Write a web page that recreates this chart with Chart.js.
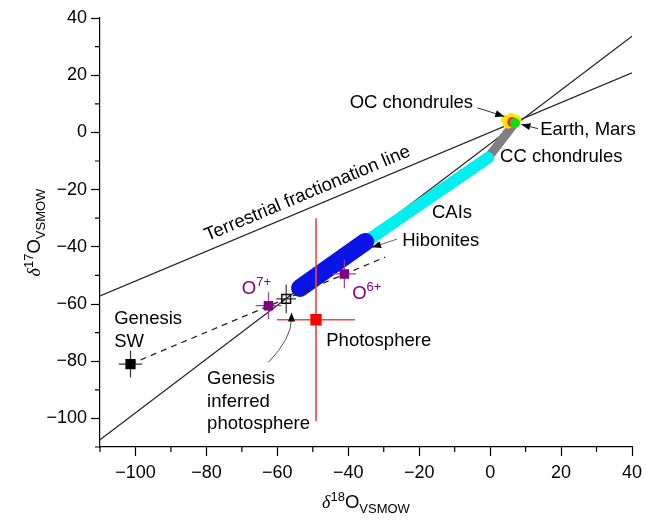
<!DOCTYPE html>
<html>
<head>
<meta charset="utf-8">
<script src="https://cdn.jsdelivr.net/npm/chart.js@4.4.1/dist/chart.umd.min.js"></script>
<style>
html, body { margin: 0; padding: 0; background: #fff; }
#wrap { width: 646px; height: 520px; }
</style>
</head>
<body>
<div id="wrap"><canvas id="chart"></canvas></div>
<script>
// reference lines, two end points each
const tflX = [-110, 40];
const tflY = [-57.2, 20.8];
const ccamX = [-110, 40];
const ccamY = [-107.5, 33.6];
const swLineX = [-101.4, -29.6];
const swLineY = [-81.0, -43.6];

// meteorite bands
const hiboniteX = [-53.6, -35.2];
const hiboniteY = [-54.4, -38.3];
const caiX = [-38.0, -0.6];
const caiY = [-40.7, -8.9];
const ccChondX = [-0.6, 6.5];
const ccChondY = [-8.9, 2.6];

// small blobs near the origin
const ocChondX = [4.4, 6.0, 7.4, 5.0];
const ocChondY = [4.4, 5.0, 4.4, 3.0];
const marsX = [6.2];
const marsY = [3.6];
const earthX = [7.0];
const earthY = [3.3];

// measurements with errors
const samples = ['Genesis SW', 'Genesis inferred photosphere', 'O7+', 'O6+', 'Photosphere'];
const sampleX = [-101.4, -57.5, -62.5, -41.1, -49.1];
const sampleY = [-81.0, -58.2, -60.6, -49.5, -65.5];
const sampleXErr = [3.3, 2.8, 3.6, 3.3, 11];
const sampleYErr = [4.7, 5.0, 4.7, 5.0, 35.5];

const majorTicks = [-100, -80, -60, -40, -20, 0, 20, 40];
const minorTicks = [-110, -90, -70, -50, -30, -10, 10, 30];

// styles
const sampleFill = ['#000', 'rgba(0,0,0,0)', '#800080', '#800080', '#ff0000'];
const sampleBorder = ['#000', '#000', '#800080', '#800080', '#ff0000'];
const sampleRadius = [6.2, 6.2, 5.8, 5.8, 7];
const barColor = ['#333', '#333', '#a040a0', '#a040a0', '#ff4040'];
const barWidth = [1.2, 1.2, 1.2, 1.2, 1.6];

const FONT = '"Liberation Sans", Arial, Helvetica, sans-serif';
const PURPLE = '#800080';

const pts = (xs, ys) => xs.map((x, i) => ({ x: x, y: ys[i] }));

// text notes in data units
const notes = [
    { parts: [['OC chondrules']], x: -4.8, y: 10.3, align: 'right' },
    { parts: [['Earth, Mars']], x: 14.1, y: 0.8, align: 'left' },
    { parts: [['CC chondrules']], x: 2.8, y: -8.6, align: 'left' },
    { parts: [['CAIs']], x: -16.4, y: -28.2, align: 'left' },
    { parts: [['Hibonites']], x: -24.8, y: -38.0, align: 'left' },
    { parts: [['O'], ['7+', 'sup']], x: -70.0, y: -54.8, align: 'left', color: PURPLE },
    { parts: [['O'], ['6+', 'sup']], x: -38.9, y: -56.5, align: 'left', color: PURPLE },
    { parts: [['Genesis']], x: -106.0, y: -65.2, align: 'left' },
    { parts: [['SW']], x: -106.0, y: -73.2, align: 'left' },
    { parts: [['Photosphere']], x: -46.2, y: -72.9, align: 'left' },
    { parts: [['Genesis']], x: -79.8, y: -86.2, align: 'left' },
    { parts: [['inferred']], x: -79.8, y: -94.2, align: 'left' },
    { parts: [['photosphere']], x: -79.8, y: -101.9, align: 'left' }
];

// arrows: from, to (data units)
const arrows = [
    { x1: -3.6, y1: 8.6, x2: 4.0, y2: 5.6, color: '#333' },
    { x1: 13.5, y1: 1.3, x2: 8.8, y2: 2.8, color: '#333' },
    { x1: -26.2, y1: -37.3, x2: -33.3, y2: -40.2, color: '#666' }
];

function drawRich(ctx, parts, x, y, align, color) {
    const seg = parts.map(p => {
        const kind = p[1] || 'norm';
        let font = '18.5px ' + FONT, dy = 0;
        if (kind === 'sup') { font = '13px ' + FONT; dy = -7; }
        if (kind === 'sub') { font = '13px ' + FONT; dy = 5; }
        if (kind === 'delta') { font = 'italic 18px "Liberation Serif", "DejaVu Serif", serif'; }
        ctx.font = font;
        return { t: p[0], font: font, dy: dy, w: ctx.measureText(p[0]).width };
    });
    const total = seg.reduce((s, p) => s + p.w, 0);
    let cx = align === 'right' ? x - total : (align === 'center' ? x - total / 2 : x);
    ctx.fillStyle = color || '#000';
    seg.forEach(p => {
        ctx.font = p.font;
        ctx.textAlign = 'left';
        ctx.fillText(p.t, cx, y + p.dy);
        cx += p.w;
    });
}

function arrowHead(ctx, x1, y1, x2, y2, len, half) {
    const a = Math.atan2(y2 - y1, x2 - x1);
    ctx.beginPath();
    ctx.moveTo(x2, y2);
    ctx.lineTo(x2 - len * Math.cos(a) + half * Math.sin(a), y2 - len * Math.sin(a) - half * Math.cos(a));
    ctx.lineTo(x2 - len * Math.cos(a) - half * Math.sin(a), y2 - len * Math.sin(a) + half * Math.cos(a));
    ctx.closePath();
    ctx.fillStyle = '#000';
    ctx.fill();
}

// error bars, drawn right before the sample squares
const errorBars = {
    id: 'errorBars',
    beforeDatasetDraw(chart, args) {
        if (args.index !== 0) return;
        const { ctx, scales: { x, y } } = chart;
        ctx.save();
        sampleX.forEach((v, i) => {
            const px = x.getPixelForValue(v);
            const py = y.getPixelForValue(sampleY[i]);
            ctx.strokeStyle = barColor[i];
            ctx.lineWidth = barWidth[i];
            ctx.beginPath();
            ctx.moveTo(x.getPixelForValue(v - sampleXErr[i]), py);
            ctx.lineTo(x.getPixelForValue(v + sampleXErr[i]), py);
            ctx.moveTo(px, y.getPixelForValue(sampleY[i] - sampleYErr[i]));
            ctx.lineTo(px, y.getPixelForValue(sampleY[i] + sampleYErr[i]));
            ctx.stroke();
        });
        ctx.restore();
    }
};

// minor ticks, notes, arrows and axis titles
const decorations = {
    id: 'decorations',
    afterDraw(chart) {
        const { ctx, chartArea: area, scales: { x, y } } = chart;
        ctx.save();

        // minor ticks
        ctx.strokeStyle = '#000';
        ctx.lineWidth = 1.2;
        ctx.beginPath();
        minorTicks.forEach(v => {
            const px = x.getPixelForValue(v);
            ctx.moveTo(px, area.bottom);
            ctx.lineTo(px, area.bottom + 5);
            const py = y.getPixelForValue(v);
            ctx.moveTo(area.left, py);
            ctx.lineTo(area.left - 5, py);
        });
        ctx.stroke();

        ctx.textBaseline = 'middle';
        notes.forEach(n => {
            drawRich(ctx, n.parts, x.getPixelForValue(n.x), y.getPixelForValue(n.y), n.align, n.color);
        });

        // rotated label along the terrestrial fractionation line
        const ax = x.getPixelForValue(tflX[0]), ay = y.getPixelForValue(tflY[0]);
        const bx = x.getPixelForValue(tflX[1]), by = y.getPixelForValue(tflY[1]);
        ctx.save();
        ctx.translate(x.getPixelForValue(-51.5), y.getPixelForValue(-21.4));
        ctx.rotate(Math.atan2(by - ay, bx - ax));
        ctx.font = '18.5px ' + FONT;
        ctx.fillStyle = '#000';
        ctx.textAlign = 'center';
        ctx.fillText('Terrestrial fractionation line', 0, 0);
        ctx.restore();

        // straight arrows
        arrows.forEach(a => {
            const x1 = x.getPixelForValue(a.x1), y1 = y.getPixelForValue(a.y1);
            const x2 = x.getPixelForValue(a.x2), y2 = y.getPixelForValue(a.y2);
            ctx.strokeStyle = a.color;
            ctx.lineWidth = 1;
            ctx.beginPath();
            ctx.moveTo(x1, y1);
            ctx.lineTo(x2, y2);
            ctx.stroke();
            arrowHead(ctx, x1, y1, x2, y2, 9, 3.5);
        });

        // curved arrow to the inferred photosphere
        const sx = x.getPixelForValue(-62.5), sy = y.getPixelForValue(-80.4);
        const cx = x.getPixelForValue(-56.0), cy = y.getPixelForValue(-72.0);
        const ex = x.getPixelForValue(-56.0), ey = y.getPixelForValue(-63.0);
        ctx.strokeStyle = '#555';
        ctx.lineWidth = 1;
        ctx.beginPath();
        ctx.moveTo(sx, sy);
        ctx.quadraticCurveTo(cx, cy, ex, ey + 6);
        ctx.stroke();
        arrowHead(ctx, ex, ey + 10, ex, ey, 9, 3.5);

        // axis titles
        ctx.textBaseline = 'alphabetic';
        const xTitle = [['\u03b4', 'delta'], ['18', 'sup'], ['O'], ['VSMOW', 'sub']];
        drawRich(ctx, xTitle, (area.left + area.right) / 2, 508, 'center');
        ctx.save();
        ctx.translate(40, (area.top + area.bottom) / 2);
        ctx.rotate(-Math.PI / 2);
        drawRich(ctx, [['\u03b4', 'delta'], ['17', 'sup'], ['O'], ['VSMOW', 'sub']], 0, 0, 'center');
        ctx.restore();

        ctx.restore();
    }
};

const fmt = v => (v % 20 === 0 ? String(v).replace('-', '\u2212') : '');
const majorColor = c => (c.tick && c.tick.value % 20 === 0 ? '#000' : 'rgba(0,0,0,0)');
const allTicks = s => {
    s.ticks = minorTicks.concat(majorTicks).sort((a, b) => a - b).map(v => ({ value: v }));
};

new Chart(document.getElementById('chart'), {
    type: 'scatter',
    data: {
        datasets: [
            // first entry is drawn on top
            {
                label: 'samples',
                data: pts(sampleX, sampleY),
                pointStyle: 'rect',
                pointRadius: sampleRadius,
                backgroundColor: sampleFill,
                borderColor: sampleBorder,
                borderWidth: 1.4
            },
            {
                label: 'Genesis line',
                data: pts(swLineX, swLineY),
                showLine: true,
                borderColor: '#222',
                borderWidth: 1.3,
                borderDash: [6, 5],
                pointRadius: 0
            },
            {
                label: 'Earth',
                data: pts(earthX, earthY),
                pointRadius: 5,
                backgroundColor: '#11dd11',
                borderWidth: 0
            },
            {
                label: 'Mars',
                data: pts(marsX, marsY),
                pointRadius: 5,
                backgroundColor: '#ff2a1a',
                borderWidth: 0
            },
            {
                label: 'OC chondrules',
                data: pts(ocChondX, ocChondY),
                pointRadius: 5,
                backgroundColor: '#ffe600',
                borderWidth: 0
            },
            {
                label: 'Hibonites',
                data: pts(hiboniteX, hiboniteY),
                showLine: true,
                borderColor: '#0a14e6',
                borderWidth: 18,
                borderCapStyle: 'round',
                pointRadius: 0
            },
            {
                label: 'CAIs',
                data: pts(caiX, caiY),
                showLine: true,
                borderColor: '#00f0f0',
                borderWidth: 12,
                borderCapStyle: 'round',
                pointRadius: 0
            },
            {
                label: 'CC chondrules',
                data: pts(ccChondX, ccChondY),
                showLine: true,
                borderColor: '#808080',
                borderWidth: 9,
                pointRadius: 0
            },
            {
                label: 'TFL',
                data: pts(tflX, tflY),
                showLine: true,
                borderColor: '#222',
                borderWidth: 1.2,
                pointRadius: 0
            },
            {
                label: 'CCAM',
                data: pts(ccamX, ccamY),
                showLine: true,
                borderColor: '#222',
                borderWidth: 1.2,
                pointRadius: 0
            }
        ]
    },
    options: {
        responsive: true,
        maintainAspectRatio: false,
        animation: false,
        layout: { padding: { top: 18, right: 14, left: 0, bottom: 0 } },
        plugins: {
            legend: { display: false },
            tooltip: { enabled: false }
        },
        scales: {
            x: {
                type: 'linear',
                min: -110,
                max: 40,
                afterFit: s => { s.height = 73; s.paddingLeft = 0; s.paddingRight = 0; },
                afterBuildTicks: allTicks,
                border: { display: true, color: '#000', width: 1.2 },
                grid: { drawOnChartArea: false, drawTicks: true, tickLength: 9, tickColor: majorColor, tickWidth: 1.2 },
                ticks: { callback: fmt, color: '#000', padding: 6, maxRotation: 0, autoSkip: false, font: { family: FONT, size: 18 } }
            },
            y: {
                type: 'linear',
                min: -110,
                max: 40,
                afterFit: s => { s.width = 100; s.paddingTop = 0; s.paddingBottom = 0; },
                afterBuildTicks: allTicks,
                border: { display: true, color: '#000', width: 1.2 },
                grid: { drawOnChartArea: false, drawTicks: true, tickLength: 9, tickColor: majorColor, tickWidth: 1.2 },
                ticks: { callback: fmt, color: '#000', padding: 4, autoSkip: false, font: { family: FONT, size: 18 } }
            }
        }
    },
    plugins: [errorBars, decorations]
});
</script>
</body>
</html>
